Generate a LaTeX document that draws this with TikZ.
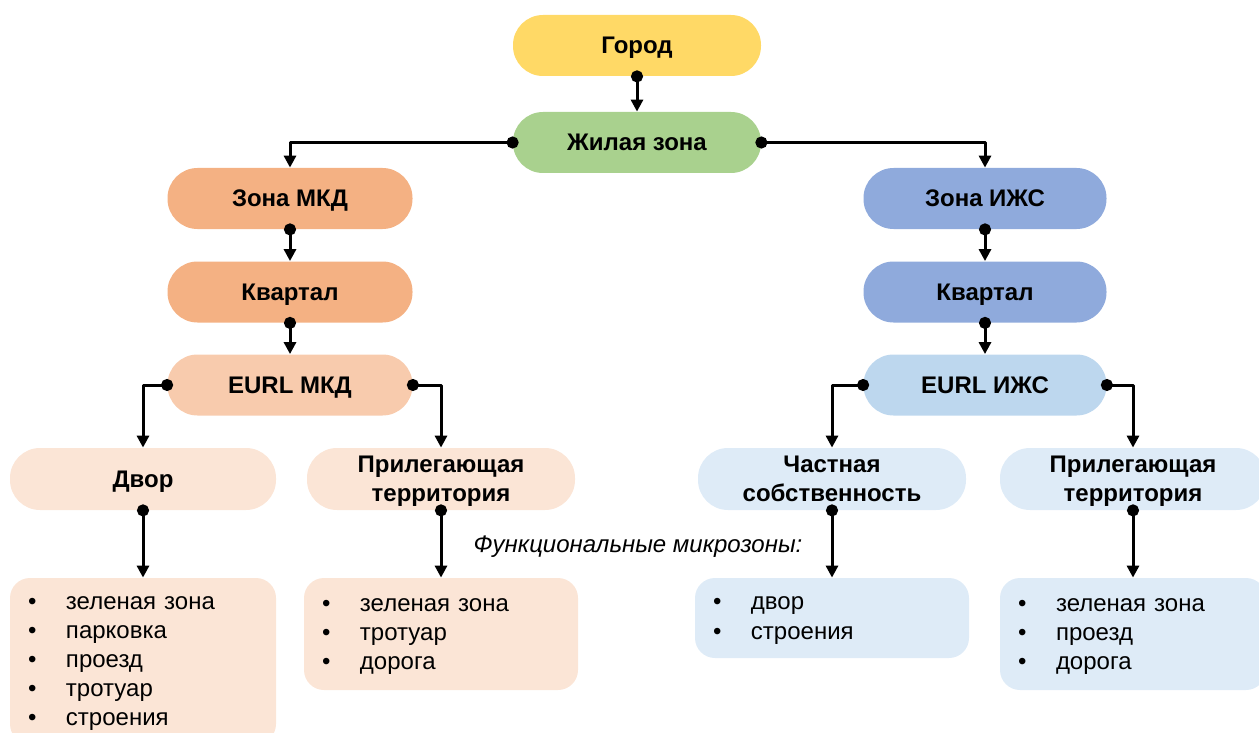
\documentclass[tikz,border=0pt]{standalone}
\usepackage{fontspec}
\setmainfont{Liberation Sans}
\usetikzlibrary{arrows.meta}
\definecolor{cGorod}{HTML}{FFD966}
\definecolor{cZhil}{HTML}{A9D18E}
\definecolor{cMkd}{HTML}{F4B183}
\definecolor{cMkdL}{HTML}{F8CBAD}
\definecolor{cMkdX}{HTML}{FBE5D6}
\definecolor{cIzhs}{HTML}{8FAADC}
\definecolor{cIzhsL}{HTML}{BDD7EE}
\definecolor{cIzhsX}{HTML}{DEEBF7}
\newcommand{\bul}{\makebox[19pt][l]{\textbullet}}
\begin{document}
\begin{tikzpicture}[x=0.5pt, y=-0.5pt, line join=round,
	font=\fontsize{12}{14.6}\selectfont,
	pill/.style={draw=none, fill=#1, rounded corners=15pt, minimum height=30.5pt,
		inner sep=0pt, align=center, text depth=0pt,
		font=\fontsize{12}{14.6}\selectfont\bfseries},
	lst/.style={fill=#1, rounded corners=10pt, inner xsep=9pt, inner ysep=0pt,
		text width=115pt, align=left},
	conn/.style={line width=1.5pt, {Circle[length=6pt]}-{Triangle[length=6pt,width=6pt]},
		shorten <=-3pt}]
	\useasboundingbox (0,0) rectangle (1259,733);
	% верх
	\node[pill=cGorod, minimum width=124pt] (gorod) at (637,45.5) {Город};
	\node[pill=cZhil, minimum width=124pt] (zhil) at (637,142.5) {Жилая зона};
	% МКД
	\node[pill=cMkd, minimum width=122.5pt] (mkd) at (290,198.5) {Зона МКД};
	\node[pill=cMkd, minimum width=122.5pt] (kvl) at (290,292) {Квартал};
	\node[pill=cMkdL, minimum width=122.5pt] (eurlm) at (290,385) {EURL МКД};
	\node[pill=cMkdX, minimum width=133pt, minimum height=31pt] (dvor) at (143,479) {Двор};
	\node[pill=cMkdX, minimum width=134pt, minimum height=31pt] (prl) at (441,479) {Прилегающая\\территория};
	% ИЖС
	\node[pill=cIzhs, minimum width=121.5pt] (izhs) at (985,198.5) {Зона ИЖС};
	\node[pill=cIzhs, minimum width=121.5pt] (kvr) at (985,292) {Квартал};
	\node[pill=cIzhsL, minimum width=121.5pt] (eurli) at (985,385) {EURL ИЖС};
	\node[pill=cIzhsX, minimum width=134pt, minimum height=31pt] (chast) at (832,479) {Частная\\собственность};
	\node[pill=cIzhsX, minimum width=133pt, minimum height=31pt] (prr) at (1133,479) {Прилегающая\\территория};
	% микрозоны
	\node[font=\fontsize{12}{14.6}\selectfont\itshape] (mikro) at (638,547) {Функциональные микрозоны:};
	\node[lst=cMkdX, minimum height=83pt, text depth=58.4pt] (ldvor) at (143,661)
		{\bul зеленая зона\\\bul парковка\\\bul проезд\\\bul тротуар\\\bul строения};
	\node[lst=cMkdX, text width=119pt, minimum height=56pt, text depth=29.2pt] (lprl) at (441,634)
		{\bul зеленая зона\\\bul тротуар\\\bul дорога};
	\node[lst=cIzhsX, text width=119pt, minimum height=40pt, text depth=14.6pt] (lchast) at (832,618)
		{\bul двор\\\bul строения};
	\node[lst=cIzhsX, minimum height=56pt, text depth=29.2pt] (lprr) at (1133,634)
		{\bul зеленая зона\\\bul проезд\\\bul дорога};
	% связи
	\draw[conn] (gorod.south) -- (zhil.north);
	\draw[conn] (zhil.west) -| (mkd.north);
	\draw[conn] (zhil.east) -| (izhs.north);
	\draw[conn] (mkd.south) -- (kvl.north);
	\draw[conn] (kvl.south) -- (eurlm.north);
	\draw[conn] (izhs.south) -- (kvr.north);
	\draw[conn] (kvr.south) -- (eurli.north);
	\draw[conn] (eurlm.west) -| (dvor.north);
	\draw[conn] (eurlm.east) -| (prl.north);
	\draw[conn] (eurli.west) -| (chast.north);
	\draw[conn] (eurli.east) -| (prr.north);
	\draw[conn] (dvor.south) -- (ldvor.north);
	\draw[conn] (prl.south) -- (lprl.north);
	\draw[conn] (chast.south) -- (lchast.north);
	\draw[conn] (prr.south) -- (lprr.north);
\end{tikzpicture}
\end{document}
